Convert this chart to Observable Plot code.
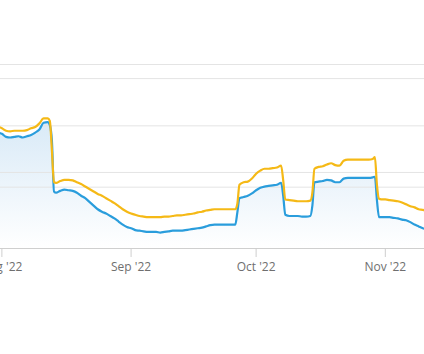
<!DOCTYPE html>
<html>
<head>
<meta charset="utf-8">
<script src="https://cdn.jsdelivr.net/npm/d3@7"></script>
<script src="https://cdn.jsdelivr.net/npm/@observablehq/plot@0.6"></script>
<style>
  html, body { margin: 0; padding: 0; background: #fff; overflow: hidden; }
  #chart svg { display: block; }
</style>
</head>
<body>
<div id="chart"></div>
<script>
const dates = [
  "2022-07-31","2022-08-01","2022-08-02","2022-08-03","2022-08-04","2022-08-05","2022-08-06","2022-08-07",
  "2022-08-08","2022-08-09","2022-08-10","2022-08-11","2022-08-12","2022-08-12T12:00Z","2022-08-13","2022-08-13T12:00Z",
  "2022-08-14","2022-08-15","2022-08-16","2022-08-17","2022-08-18","2022-08-19","2022-08-20","2022-08-21",
  "2022-08-22","2022-08-23","2022-08-24","2022-08-25","2022-08-26","2022-08-27","2022-08-28","2022-08-29",
  "2022-08-30","2022-08-31","2022-09-01","2022-09-02","2022-09-03","2022-09-04","2022-09-05","2022-09-06",
  "2022-09-07","2022-09-08","2022-09-09","2022-09-10","2022-09-11","2022-09-12","2022-09-13","2022-09-14",
  "2022-09-15","2022-09-16","2022-09-17","2022-09-18","2022-09-19","2022-09-20","2022-09-21","2022-09-22",
  "2022-09-23","2022-09-24","2022-09-25","2022-09-26","2022-09-26T12:00Z","2022-09-27","2022-09-28","2022-09-29",
  "2022-09-30","2022-10-01","2022-10-02","2022-10-03","2022-10-04","2022-10-05","2022-10-06","2022-10-07",
  "2022-10-07T12:00Z","2022-10-08","2022-10-09","2022-10-10","2022-10-11","2022-10-12","2022-10-13","2022-10-14",
  "2022-10-14T12:00Z","2022-10-15","2022-10-16","2022-10-17","2022-10-18","2022-10-19","2022-10-20","2022-10-21",
  "2022-10-22","2022-10-23","2022-10-24","2022-10-25","2022-10-26","2022-10-27","2022-10-28","2022-10-29",
  "2022-10-29T12:00Z","2022-10-30","2022-10-30T12:00Z","2022-10-31","2022-11-01","2022-11-02","2022-11-03","2022-11-04",
  "2022-11-05","2022-11-06","2022-11-07","2022-11-08","2022-11-09","2022-11-10","2022-11-11"
];
const yellowValues = [
  199,196,192,191,192,192,192,193,
  196,198,204,212,212,208,160,108,
  107,110,112,112,111,108,105,101,
  97,93,89,86,82,78,74,69,
  64,60,57,55,53,52,51,51,
  51,51,52,52,53,54,54,55,
  56,57,59,60,62,63,64,64,
  64,64,64,64,73,104,108,109,
  114,122,127,130,130,131,132,135,
  111,80,79,78,77,77,77,78,
  91,130,133,134,137,139,136,135,
  143,145,145,145,145,145,145,146,
  149,103,81,80,80,79,78,77,
  75,72,69,67,64,63,61
];
const blueValues = [
  189,187,182,181,182,183,181,183,
  185,189,194,205,206,201,176,93,
  91,94,96,95,94,91,86,82,
  76,70,64,60,57,53,49,44,
  39,35,33,30,29,28,27,27,
  27,26,27,28,29,29,29,30,
  31,32,33,34,36,38,39,39,
  39,39,39,39,59,82,84,86,
  90,95,99,101,102,103,104,107,
  86,55,53,53,53,52,52,53,
  70,108,109,110,112,111,108,108,
  114,115,115,115,115,115,115,116,
  117,78,51,51,51,51,50,49,
  47,46,43,39,36,33,31
];
const yGridValues = [100, 200, 300];
const secondaryGridValues = [124, 277];
const monthTicks = ["2022-08-01","2022-09-01","2022-10-01","2022-11-01"];
const xDomain = ["2022-07-31T16:00Z", "2022-11-10T09:40Z"];

const series = dates.map((d, i) => ({date: new Date(d), yellow: yellowValues[i], blue: blueValues[i]}));

const chart = Plot.plot({
  width: 424,
  height: 354,
  marginLeft: 0,
  marginRight: 0,
  marginTop: 64,
  marginBottom: 106,
  style: {fontFamily: "'Open Sans', Lato, sans-serif", fontSize: "12px", color: "#777", background: "#fff"},
  x: {type: "utc", domain: xDomain.map(d => new Date(d))},
  y: {domain: [0, 300], axis: null},
  marks: [
    Plot.areaY(series, {x: "date", y: "blue", fill: "url(#blueFade)", curve: "monotone-x", clip: true}),
    Plot.ruleY(yGridValues, {stroke: "#e4e4e4", strokeWidth: 1}),
    Plot.ruleY(secondaryGridValues, {stroke: "#e4e4e4", strokeWidth: 1}),
    Plot.ruleY([0], {stroke: "#cfcfcf", strokeWidth: 1}),
    Plot.axisX(monthTicks.map(d => new Date(d)), {
      tickSize: 9, tickPadding: 5, stroke: "#cfcfcf", fill: "#6f6f6f",
      tickFormat: d3.utcFormat("%b '%y"), fontSize: 12
    }),
    Plot.lineY(series, {x: "date", y: "blue", stroke: "#2a9ddc", strokeWidth: 2.2, curve: "monotone-x", clip: true}),
    Plot.lineY(series, {x: "date", y: "yellow", stroke: "#f5b916", strokeWidth: 2.2, curve: "monotone-x", clip: true})
  ]
});

const ns = "http://www.w3.org/2000/svg";
const defs = document.createElementNS(ns, "defs");
const grad = document.createElementNS(ns, "linearGradient");
grad.setAttribute("id", "blueFade");
grad.setAttribute("x1", "0"); grad.setAttribute("y1", "0");
grad.setAttribute("x2", "0"); grad.setAttribute("y2", "1");
[["0%", "#d9eaf7", 1], ["100%", "#ffffff", 1]].forEach(([o, c, a]) => {
  const s = document.createElementNS(ns, "stop");
  s.setAttribute("offset", o); s.setAttribute("stop-color", c); s.setAttribute("stop-opacity", a);
  grad.appendChild(s);
});
defs.appendChild(grad);
chart.insertBefore(defs, chart.firstChild);
document.getElementById("chart").appendChild(chart);
</script>
</body>
</html>
